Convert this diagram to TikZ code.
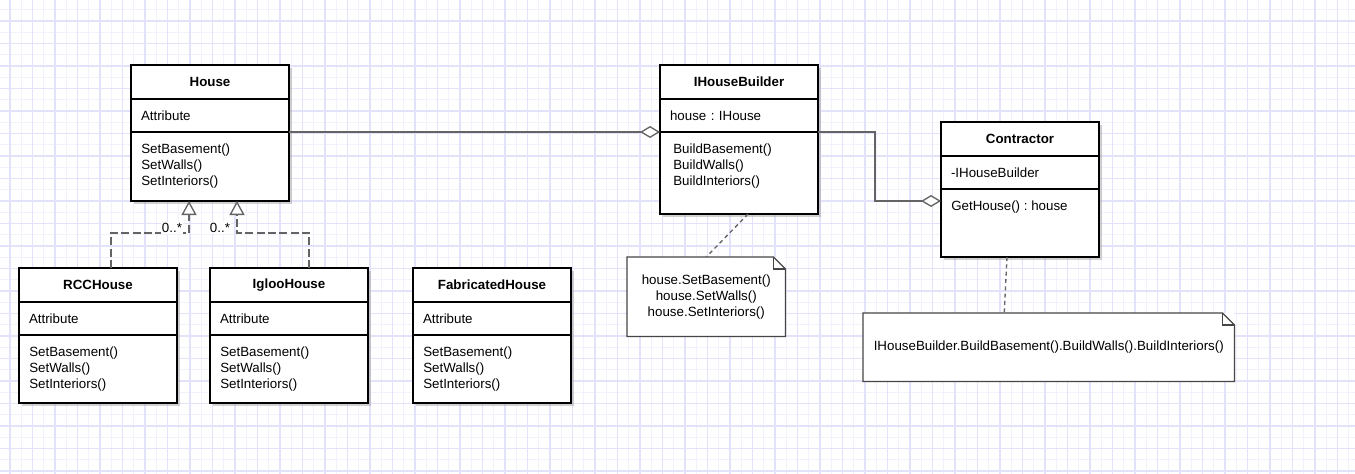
\documentclass[tikz,border=0pt]{standalone}
\usepackage{fontspec}
\setmainfont{Liberation Sans}
\usepackage{xcolor}
\usepackage{tikz}
\usetikzlibrary{arrows.meta,positioning,shadows}

\definecolor{gridmajor}{RGB}{226,226,250}
\definecolor{gridminor}{RGB}{242,242,253}
\definecolor{linkgray}{RGB}{100,100,100}
\definecolor{notegray}{RGB}{70,70,70}

\tikzset{
  box/.style={draw=black, line width=1.2pt, fill=white, outer sep=0pt, minimum width=118.5pt,
    drop shadow={shadow xshift=2.25pt, shadow yshift=-2.25pt, fill=black!40, opacity=0.45}},
  classname/.style={box, minimum height=25.5pt, font=\bfseries, anchor=north west},
  classattr/.style={box, minimum height=24.75pt, text width=103.5pt, inner xsep=7.5pt, align=left},
  classops/.style={box},
  opstext/.style={anchor=north west, align=left, inner xsep=7.5pt, inner ysep=9pt},
  link/.style={draw=linkgray, line width=1pt},
  gen/.style={link, dash pattern=on 6pt off 2.5pt, -{Triangle[fill=white, length=10.5pt, width=11.25pt]}},
  agg/.style={link, -{Diamond[fill=white, length=15pt, width=9pt]}},
  notelink/.style={link, dash pattern=on 3pt off 2.5pt},
  note/.style={fill=white, anchor=north west, align=center, inner sep=0pt},
  noteline/.style={draw=notegray, line width=0.9pt, line join=miter},
  mult/.style={fill=white, inner sep=1pt}
}

\begin{document}
\frenchspacing
\begin{tikzpicture}[x=0.75pt, y=-0.75pt]
\useasboundingbox (0,0) rectangle (1355,474);
\fill[white] (0,0) rectangle (1355,474);

\begin{scope}
\clip (0,0) rectangle (1355,474);
\begin{scope}[shift={(7.5pt,-15.75pt)}]
\draw[gridminor, line width=0.75pt, step=8.4375pt] (-20pt,-360pt) grid (1020pt,20pt);
\draw[gridmajor, line width=1pt, step=16.875pt] (-20pt,-360pt) grid (1020pt,20pt);
\end{scope}
\end{scope}

\node[classname] (house) at (131,65) {House};
\node[classattr, below=0pt of house] (houseattr) {Attribute};
\node[classops, minimum height=51.75pt, below=0pt of houseattr,
  label={[opstext]north west:{SetBasement()\\SetWalls()\\SetInteriors()}}] (houseops) {};

\node[classname] (builder) at (660,65) {IHouseBuilder};
\node[classattr, below=0pt of builder] (builderattr) {house : IHouse};
\node[classops, minimum height=61.5pt, below=0pt of builderattr,
  label={[opstext, xshift=2.25pt]north west:{BuildBasement()\\BuildWalls()\\BuildInteriors()}}] (builderops) {};

\node[classname] (contractor) at (941,122) {Contractor};
\node[classattr, below=0pt of contractor] (contractorattr) {-IHouseBuilder};
\node[classops, minimum height=51pt, below=0pt of contractorattr,
  label={[opstext]north west:{GetHouse() : house}}] (contractorops) {};

\node[classname] (rcc) at (19,268) {RCCHouse};
\node[classattr, below=0pt of rcc] (rccattr) {Attribute};
\node[classops, minimum height=51pt, below=0pt of rccattr,
  label={[opstext]north west:{SetBasement()\\SetWalls()\\SetInteriors()}}] (rccops) {};

\node[classname] (igloo) at (210,268) {IglooHouse};
\node[classattr, below=0pt of igloo] (iglooattr) {Attribute};
\node[classops, minimum height=51pt, below=0pt of iglooattr,
  label={[opstext]north west:{SetBasement()\\SetWalls()\\SetInteriors()}}] (iglooops) {};

\node[classname] (fab) at (413,268) {FabricatedHouse};
\node[classattr, below=0pt of fab] (fabattr) {Attribute};
\node[classops, minimum height=51pt, below=0pt of fabattr,
  label={[opstext]north west:{SetBasement()\\SetWalls()\\SetInteriors()}}] (fabops) {};

\node[note, minimum width=118.5pt, minimum height=59.25pt] (buildnote) at (627,257)
  {house.SetBasement()\\house.SetWalls()\\house.SetInteriors()};
\draw[noteline] (buildnote.north west) -- ([xshift=-9pt]buildnote.north east) -- ([yshift=-9pt]buildnote.north east)
  -- (buildnote.south east) -- (buildnote.south west) -- cycle;
\draw[noteline] ([xshift=-9pt]buildnote.north east) |- ([yshift=-9pt]buildnote.north east);

\node[note, minimum width=278.25pt, minimum height=51pt] (contractnote) at (863,313)
  {IHouseBuilder.BuildBasement().BuildWalls().BuildInteriors()};
\draw[noteline] (contractnote.north west) -- ([xshift=-9pt]contractnote.north east) -- ([yshift=-9pt]contractnote.north east)
  -- (contractnote.south east) -- (contractnote.south west) -- cycle;
\draw[noteline] ([xshift=-9pt]contractnote.north east) |- ([yshift=-9pt]contractnote.north east);

\draw[agg] (houseattr.south east) -- (builderattr.south west);
\draw[agg] (builderattr.south east) -- ++(57,0) |- ([yshift=-9pt]contractorops.north west);

\draw[gen] ([xshift=9.75pt]rcc.north) |- ++(78,-35) -- ([xshift=-15.75pt]houseops.south);
\draw[gen] ([xshift=15pt]igloo.north) |- ++(-72,-35) -- ([xshift=20.25pt]houseops.south);
\node[mult] (rccmult) at (172,228) {0..*};
\node[mult] (igloomult) at (220,228) {0..*};

\draw[notelink] ([xshift=6.75pt]builderops.south) -- (buildnote.north);
\draw[notelink] ([xshift=-9.75pt]contractorops.south) -- ([xshift=-33.4pt]contractnote.north);
\end{tikzpicture}
\end{document}
